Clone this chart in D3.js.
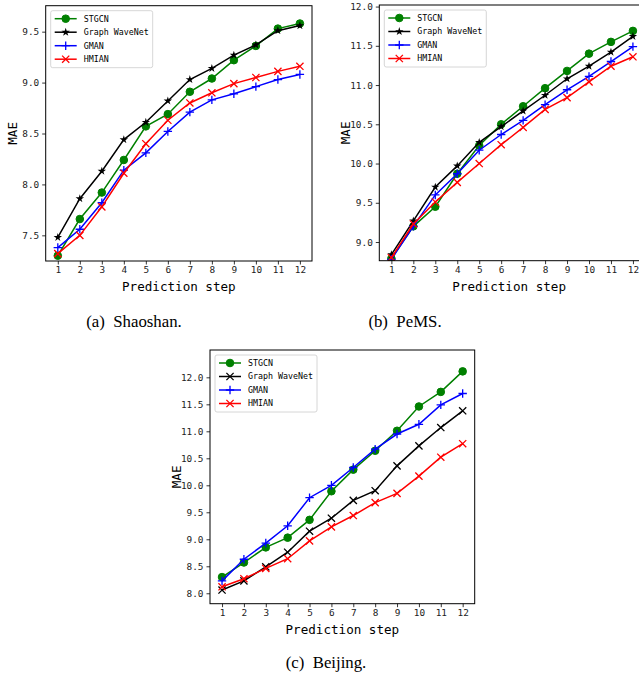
<!DOCTYPE html>
<html>
<head>
<meta charset="utf-8">
<script src="https://cdn.jsdelivr.net/npm/d3@7"></script>
<style>
  body { margin: 0; background: #fff; }
  svg { display: block; }
</style>
</head>
<body>
<div id="chart"></div>
<script>
// prediction steps
const steps = [1, 2, 3, 4, 5, 6, 7, 8, 9, 10, 11, 12];
const modelNames = ["STGCN", "Graph WaveNet", "GMAN", "HMIAN"];

// (a) Shaoshan
const shaoshanSTGCN = [7.30, 7.66, 7.92, 8.24, 8.57, 8.69, 8.91, 9.04, 9.22, 9.36, 9.53, 9.58];
const shaoshanGWN   = [7.48, 7.86, 8.13, 8.44, 8.61, 8.82, 9.03, 9.14, 9.27, 9.37, 9.51, 9.56];
const shaoshanGMAN  = [7.38, 7.56, 7.82, 8.14, 8.31, 8.52, 8.71, 8.83, 8.89, 8.96, 9.03, 9.08];
const shaoshanHMIAN = [7.32, 7.50, 7.78, 8.11, 8.40, 8.63, 8.80, 8.90, 8.99, 9.05, 9.11, 9.16];
const shaoshanTicks = [7.5, 8.0, 8.5, 9.0, 9.5];

// (b) PeMS
const pemsSTGCN = [8.79, 9.20, 9.45, 9.87, 10.23, 10.50, 10.73, 10.96, 11.18, 11.40, 11.55, 11.69];
const pemsGWN   = [8.84, 9.27, 9.70, 9.97, 10.27, 10.47, 10.67, 10.87, 11.08, 11.24, 11.42, 11.62];
const pemsGMAN  = [8.78, 9.20, 9.60, 9.87, 10.17, 10.37, 10.55, 10.75, 10.94, 11.11, 11.30, 11.49];
const pemsHMIAN = [8.80, 9.23, 9.51, 9.76, 10.00, 10.24, 10.46, 10.69, 10.84, 11.04, 11.24, 11.36];
const pemsTicks = [9.0, 9.5, 10.0, 10.5, 11.0, 11.5, 12.0];

// (c) Beijing
const beijingSTGCN = [8.30, 8.57, 8.85, 9.03, 9.36, 9.89, 10.29, 10.64, 11.01, 11.46, 11.73, 12.11];
const beijingGWN   = [8.06, 8.23, 8.49, 8.76, 9.15, 9.39, 9.72, 9.90, 10.36, 10.73, 11.07, 11.38];
const beijingGMAN  = [8.23, 8.63, 8.93, 9.25, 9.77, 10.00, 10.33, 10.67, 10.95, 11.13, 11.49, 11.70];
const beijingHMIAN = [8.12, 8.27, 8.46, 8.64, 8.97, 9.23, 9.44, 9.68, 9.85, 10.17, 10.52, 10.77];
const beijingTicks = [8.0, 8.5, 9.0, 9.5, 10.0, 10.5, 11.0, 11.5, 12.0];

const colours = ["#008000", "#000000", "#0000ff", "#ff0000"];

const svg = d3.select("#chart")
    .append("svg")
    .attr("width", 639)
    .attr("height", 677);

const monoFont = "'DejaVu Sans Mono', 'Liberation Mono', monospace";

// draw one marker shape at the origin of group g
function drawMarker(g, kind, colour) {
    if (kind === "circle") {
        g.append("circle").attr("r", 3.8).style("fill", colour).style("stroke", colour);
    } else if (kind === "star") {
        g.append("path").attr("d", d3.symbol(d3.symbolStar, 22)()).style("fill", colour);
    } else if (kind === "plus") {
        g.append("path").attr("d", "M-4.2,0H4.2M0,-4.2V4.2")
            .style("stroke", colour).style("stroke-width", 1.3).style("fill", "none");
    } else {
        g.append("path").attr("d", "M-3.6,-3.6L3.6,3.6M-3.6,3.6L3.6,-3.6")
            .style("stroke", colour).style("stroke-width", 1.3).style("fill", "none");
    }
}

function drawPanel(p) {
    const x = d3.scaleLinear().domain([0.45, 12.55]).range([p.left, p.right]);
    const y = d3.scaleLinear().domain(p.yDomain).range([p.bottom, p.top]);

    const clipId = "clip" + p.id;
    svg.append("clipPath").attr("id", clipId)
        .append("rect")
        .attr("x", p.left).attr("y", p.top)
        .attr("width", p.right - p.left).attr("height", p.bottom - p.top);

    const plot = svg.append("g").attr("clip-path", "url(#" + clipId + ")");
    const line = d3.line().x((d, i) => x(steps[i])).y(d => y(d));

    p.series.forEach(function (s, k) {
        plot.append("path")
            .datum(s)
            .attr("d", line)
            .style("fill", "none")
            .style("stroke", colours[k])
            .style("stroke-width", 1.5);
        s.forEach(function (v, i) {
            const g = plot.append("g").attr("transform", "translate(" + x(steps[i]) + "," + y(v) + ")");
            drawMarker(g, p.markers[k], colours[k]);
        });
    });

    // axes
    const xAxis = svg.append("g")
        .attr("transform", "translate(0," + p.bottom + ")")
        .call(d3.axisBottom(x).tickValues(steps).tickSize(3.5).tickPadding(2).tickFormat(d3.format("d")));
    const yAxis = svg.append("g")
        .attr("transform", "translate(" + p.left + ",0)")
        .call(d3.axisLeft(y).tickValues(p.ticks).tickSize(3.5).tickPadding(3).tickFormat(d3.format(".1f")));
    [xAxis, yAxis].forEach(function (a) {
        a.select(".domain").remove();
        a.selectAll("text").style("font-family", monoFont).style("font-size", "9.4px").style("fill", "#222");
        a.selectAll("line").style("stroke", "#000").style("stroke-width", 0.8);
    });

    // frame
    svg.append("rect")
        .attr("x", p.left).attr("y", p.top)
        .attr("width", p.right - p.left).attr("height", p.bottom - p.top)
        .style("fill", "none").style("stroke", "#000").style("stroke-width", 1);

    // axis labels
    svg.append("text")
        .attr("x", (p.left + Math.min(p.right, 639)) / 2 + p.xLabelShift)
        .attr("y", p.bottom + 30)
        .attr("text-anchor", "middle")
        .style("font-family", monoFont).style("font-size", "12.6px")
        .text("Prediction step");
    svg.append("text")
        .attr("transform", "translate(" + (p.left - 29) + "," + ((p.top + p.bottom) / 2) + ") rotate(-90)")
        .attr("text-anchor", "middle")
        .style("font-family", monoFont).style("font-size", "12.6px")
        .text("MAE");

    // legend
    const lg = svg.append("g").attr("transform", "translate(" + (p.left + 5) + "," + (p.top + 5) + ")");
    lg.append("rect")
        .attr("width", 102).attr("height", 57).attr("rx", 2)
        .style("fill", "#fff").style("stroke", "#ccc").style("stroke-width", 0.8);
    modelNames.forEach(function (name, k) {
        const ry = 8 + k * 13.5;
        lg.append("line")
            .attr("x1", 4).attr("x2", 26).attr("y1", ry).attr("y2", ry)
            .style("stroke", colours[k]).style("stroke-width", 1.5);
        drawMarker(lg.append("g").attr("transform", "translate(15," + ry + ")"), p.markers[k], colours[k]);
        lg.append("text")
            .attr("x", 33).attr("y", ry).attr("dy", "0.35em")
            .style("font-family", monoFont).style("font-size", "8.3px")
            .text(name);
    });

    // caption
    svg.append("text")
        .attr("x", p.capX).attr("y", p.capY)
        .attr("text-anchor", "middle")
        .attr("xml:space", "preserve")
        .style("white-space", "pre")
        .style("font-family", "'Liberation Serif', 'Times New Roman', serif")
        .style("font-size", "16.8px")
        .text(p.caption);
}

drawPanel({
    id: "a", left: 45.7, right: 312, top: 5.7, bottom: 261,
    yDomain: [7.248, 9.755], ticks: shaoshanTicks,
    series: [shaoshanSTGCN, shaoshanGWN, shaoshanGMAN, shaoshanHMIAN],
    markers: ["circle", "star", "plus", "x"],
    xLabelShift: 0, caption: "(a)  Shaoshan.", capX: 134, capY: 327
});
drawPanel({
    id: "b", left: 379.3, right: 645, top: 5, bottom: 260.7,
    yDomain: [8.762, 12.02], ticks: pemsTicks,
    series: [pemsSTGCN, pemsGWN, pemsGMAN, pemsHMIAN],
    markers: ["circle", "star", "plus", "x"],
    xLabelShift: 0, caption: "(b)  PeMS.", capX: 405, capY: 327
});
drawPanel({
    id: "c", left: 210, right: 474.7, top: 350, bottom: 603.7,
    yDomain: [7.807, 12.506], ticks: beijingTicks,
    series: [beijingSTGCN, beijingGWN, beijingGMAN, beijingHMIAN],
    markers: ["circle", "x", "plus", "x"],
    xLabelShift: 0, caption: "(c)  Beijing.", capX: 326, capY: 668
});
</script>
</body>
</html>
